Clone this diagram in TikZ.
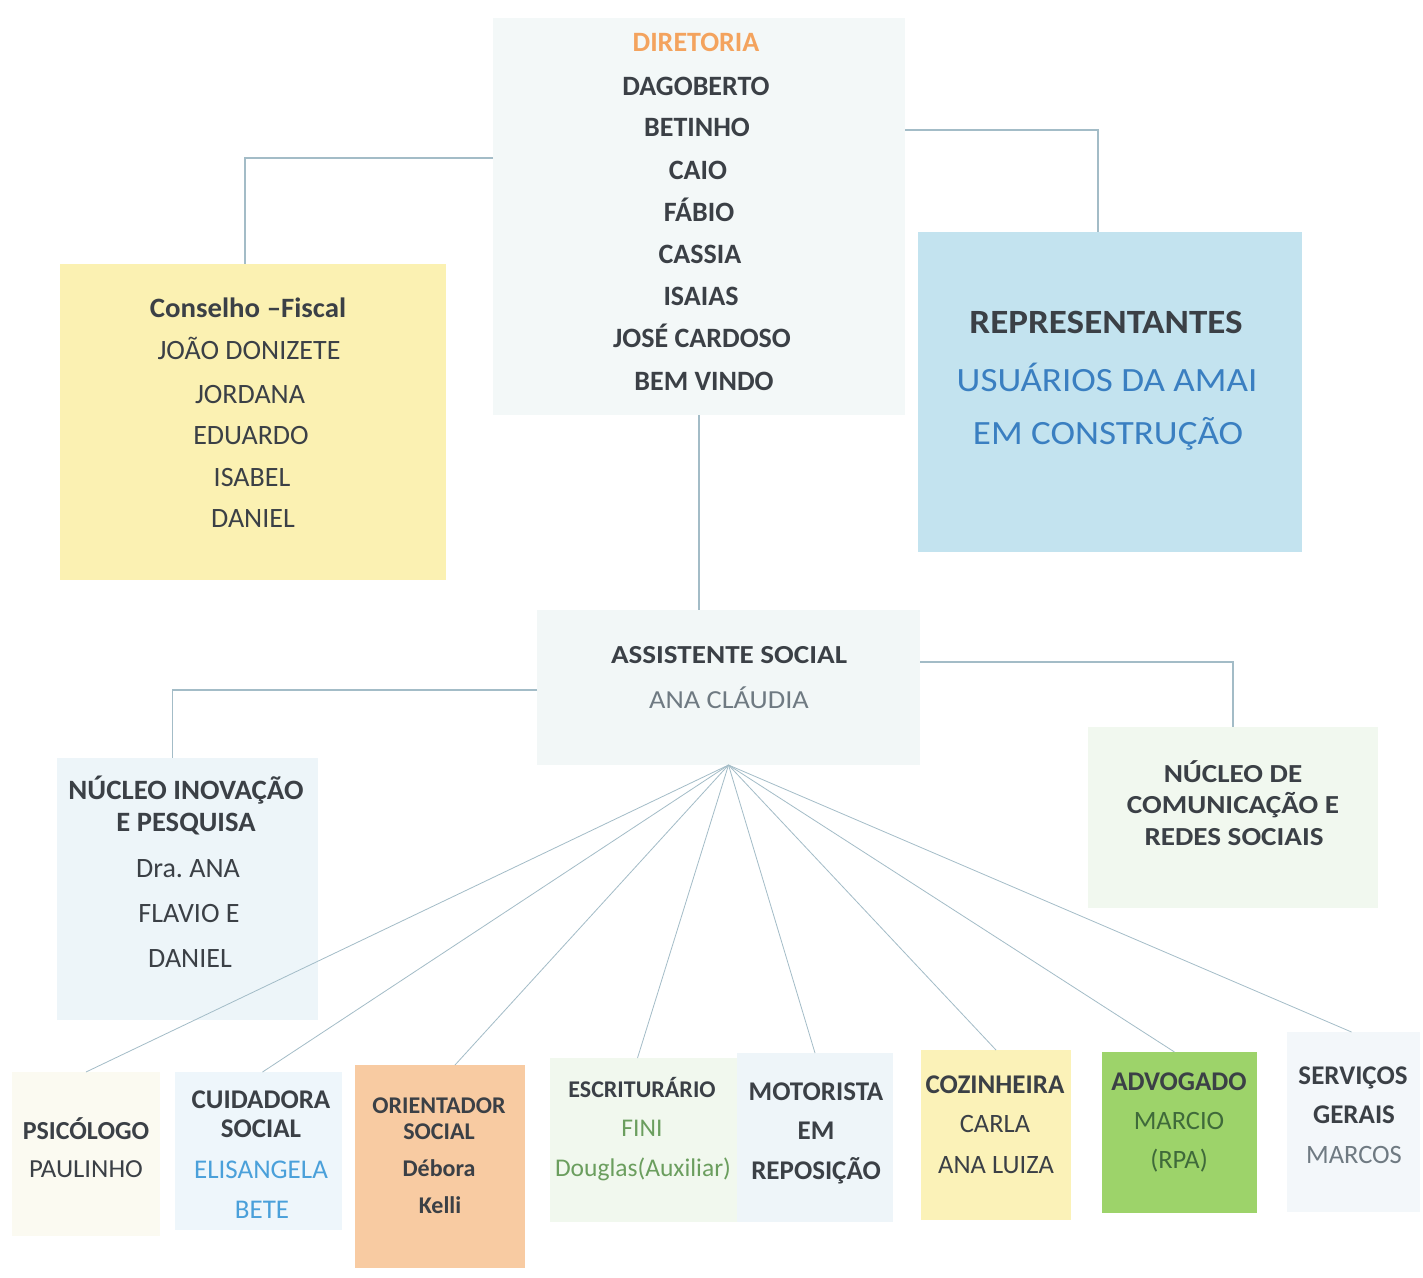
\documentclass[tikz,border=0pt]{standalone}
\usepackage{fontspec}
\usepackage{graphicx}
\setmainfont{Carlito}
\usetikzlibrary{calc}
\frenchspacing
\definecolor{txt}{HTML}{3B4046}
\definecolor{lnc}{HTML}{A3BCC7}
\definecolor{orangeT}{HTML}{F3A35E}
\definecolor{blueT}{HTML}{3A7FC1}
\definecolor{lblueT}{HTML}{4AA0DA}
\definecolor{greenT}{HTML}{6B9E5E}
\definecolor{dgreenT}{HTML}{3F6A3A}
\definecolor{grayT}{HTML}{6F7A82}
\definecolor{cDir}{HTML}{F3F8F8}
\definecolor{cCf}{HTML}{FBF1B2}
\definecolor{cRep}{HTML}{C3E3EF}
\definecolor{cAs}{HTML}{F2F7F7}
\definecolor{cNi}{HTML}{EDF5F9}
\definecolor{cNc}{HTML}{F1F8EF}
\definecolor{cPsi}{HTML}{FBFAF1}
\definecolor{cCui}{HTML}{EEF6FB}
\definecolor{cOri}{HTML}{F8CBA2}
\definecolor{cEsc}{HTML}{F1F8EE}
\definecolor{cMot}{HTML}{EEF5F9}
\definecolor{cCoz}{HTML}{FBF2B8}
\definecolor{cAdv}{HTML}{9DD36A}
\definecolor{cSer}{HTML}{F3F7FA}
\newcommand\fz[1]{\fontsize{#1}{#1}\selectfont}
\newcommand\sx[2]{\scalebox{#1}[1]{#2}}
\newcommand\mybox[6]{\node[bx,fill=#6,minimum width={#4-#2},minimum height={#5-#3}] (#1) at ({(#2+#4)/2},{(#3+#5)/2}) {};}
\begin{document}
\begin{tikzpicture}[x=1pt,y=-1pt,
  bx/.style={draw=none,inner sep=0pt,outer sep=0pt,rectangle},
  tl/.style={anchor=base,inner sep=0pt,text=txt},
  conn/.style={draw=lnc,line width=1.1pt},
  fanl/.style={draw=lnc,line width=0.8pt}]
\useasboundingbox[fill=white] (0,0) rectangle (1423,1277);
% boxes
\mybox{dir}{493}{18}{905}{415}{cDir}
\mybox{cf}{60}{264}{446}{580}{cCf}
\mybox{rep}{918}{232}{1302}{552}{cRep}
\mybox{as}{537}{610}{920}{765}{cAs}
\mybox{ni}{57}{758}{318}{1020}{cNi}
\mybox{nc}{1088}{727}{1378}{908}{cNc}
\mybox{psi}{12}{1072}{160}{1236}{cPsi}
\mybox{cui}{175}{1072}{342}{1230}{cCui}
\mybox{ori}{355}{1065}{525}{1268}{cOri}
\mybox{esc}{550}{1058}{737}{1222}{cEsc}
\mybox{mot}{737}{1053}{893}{1222}{cMot}
\mybox{coz}{921}{1050}{1071}{1220}{cCoz}
\mybox{adv}{1102}{1052}{1257}{1213}{cAdv}
\mybox{ser}{1287}{1032}{1420}{1212}{cSer}
% connectors
\draw[conn] (dir.west |- 0,158) -| ([xshift=-8pt]cf.north);
\draw[conn] (dir.east |- 0,130) -| ([xshift=-12pt]rep.north);
\draw[conn] (dir.south) -- (dir.south |- as.north);
\draw[conn] (as.west |- 0,690) -| ([xshift=-15pt]ni.north);
\draw[conn] (as.east |- 0,662) -| (nc.north);
\coordinate (fan) at (as.south);
\draw[fanl] (fan) -- (psi.north);
\draw[fanl] (fan) -- ([xshift=4pt]cui.north);
\draw[fanl] (fan) -- ([xshift=15pt]ori.north);
\draw[fanl] (fan) -- ([xshift=-6pt]esc.north);
\draw[fanl] (fan) -- (mot.north);
\draw[fanl] (fan) -- (coz.north);
\draw[fanl] (fan) -- ([xshift=-5pt]adv.north);
\draw[fanl] (fan) -- ([xshift=-2pt]ser.north);
% Diretoria
\begin{scope}[every node/.append style={font=\fz{28}\bfseries}]
\node[tl,text=orangeT] (d0) at (696,51) {DIRETORIA};
\node[tl] (d1) at (696,95) {DAGOBERTO};
\node[tl] (d2) at (697,136) {BETINHO};
\node[tl] (d3) at (698,179) {CAIO};
\node[tl] (d4) at (699,221) {FÁBIO};
\node[tl] (d5) at (700,263) {CASSIA};
\node[tl] (d6) at (701,305) {ISAIAS};
\node[tl] (d7) at (702,347) {JOSÉ CARDOSO};
\node[tl] (d8) at (704,390) {BEM VINDO};
\end{scope}
% Conselho
\node[tl,font=\fz{28}\bfseries] (c0) at (248,317) {\sx{1.03}{Conselho –Fiscal}};
\begin{scope}[every node/.append style={font=\fz{28}}]
\node[tl] (c1) at (249,359) {JOÃO DONIZETE};
\node[tl] (c2) at (250,403) {JORDANA};
\node[tl] (c3) at (251,444) {EDUARDO};
\node[tl] (c4) at (252,486) {ISABEL};
\node[tl] (c5) at (253,527) {DANIEL};
\end{scope}
% Representantes
\node[tl,font=\fz{34}\bfseries] (r0) at (1106,333) {\sx{1.09}{REPRESENTANTES}};
\node[tl,font=\fz{34},text=blueT] (r1) at (1107,391) {\sx{1.09}{USUÁRIOS DA AMAI}};
\node[tl,font=\fz{34},text=blueT] (r2) at (1108,444) {\sx{1.09}{EM CONSTRUÇÃO}};
% Assistente social
\node[tl,font=\fz{26}\bfseries] (a0) at (729,663) {\sx{1.12}{ASSISTENTE SOCIAL}};
\node[tl,font=\fz{26},text=grayT] (a1) at (729,708) {\sx{1.09}{ANA CLÁUDIA}};
% Nucleo inovacao
\node[tl,font=\fz{28}\bfseries] (n0) at (186,799) {\sx{1.03}{NÚCLEO INOVAÇÃO}};
\node[tl,font=\fz{28}\bfseries] (n1) at (186,831) {\sx{1.02}{E PESQUISA}};
\node[tl,font=\fz{28}] (n2) at (188,877) {Dra. ANA};
\node[tl,font=\fz{28}] (n3) at (189,922) {FLAVIO E};
\node[tl,font=\fz{28}] (n4) at (190,967) {DANIEL};
% Nucleo comunicacao
\begin{scope}[every node/.append style={font=\fz{26}\bfseries}]
\node[tl] (m0) at (1233,782) {\sx{1.12}{NÚCLEO DE}};
\node[tl] (m1) at (1233,813) {\sx{1.12}{COMUNICAÇÃO E}};
\node[tl] (m2) at (1234,845) {\sx{1.12}{REDES SOCIAIS}};
\end{scope}
% Psicologo
\node[tl,font=\fz{26}\bfseries] (p0) at (86,1139) {PSICÓLOGO};
\node[tl,font=\fz{26}] (p1) at (86,1177) {\sx{1.03}{PAULINHO}};
% Cuidadora
\node[tl,font=\fz{27}\bfseries] (u0) at (261,1108) {CUIDADORA};
\node[tl,font=\fz{27}\bfseries] (u1) at (261,1137) {SOCIAL};
\node[tl,font=\fz{27},text=lblueT] (u2) at (261,1178) {ELISANGELA};
\node[tl,font=\fz{27},text=lblueT] (u3) at (262,1218) {BETE};
% Orientador
\begin{scope}[every node/.append style={font=\fz{24}\bfseries}]
\node[tl] (o0) at (439,1113) {ORIENTADOR};
\node[tl] (o1) at (439,1139) {SOCIAL};
\node[tl] (o2) at (439,1176) {Débora};
\node[tl] (o3) at (440,1213) {Kelli};
\end{scope}
% Escriturario
\node[tl,font=\fz{24}\bfseries] (e0) at (642,1097) {ESCRITURÁRIO};
\node[tl,font=\fz{25.5},text=greenT] (e1) at (642,1136) {FINI};
\node[tl,font=\fz{25.5},text=greenT] (e2) at (643,1176) {Douglas(Auxiliar)};
% Motorista
\begin{scope}[every node/.append style={font=\fz{27}\bfseries}]
\node[tl] (t0) at (816,1100) {MOTORISTA};
\node[tl] (t1) at (816,1139) {EM};
\node[tl] (t2) at (816,1179) {REPOSIÇÃO};
\end{scope}
% Cozinheira
\node[tl,font=\fz{27}\bfseries] (z0) at (995,1093) {COZINHEIRA};
\node[tl,font=\fz{26.5}] (z1) at (995,1132) {CARLA};
\node[tl,font=\fz{26.5}] (z2) at (996,1173) {ANA LUIZA};
% Advogado
\node[tl,font=\fz{27}\bfseries] (v0) at (1179,1090) {ADVOGADO};
\node[tl,font=\fz{26.5},text=dgreenT] (v1) at (1179,1129) {MARCIO};
\node[tl,font=\fz{26.5},text=dgreenT] (v2) at (1179,1168) {(RPA)};
% Servicos gerais
\node[tl,font=\fz{27}\bfseries] (s0) at (1353,1084) {SERVIÇOS};
\node[tl,font=\fz{27}\bfseries] (s1) at (1354,1123) {GERAIS};
\node[tl,font=\fz{26.5},text=grayT] (s2) at (1354,1163) {MARCOS};
\end{tikzpicture}
\end{document}
